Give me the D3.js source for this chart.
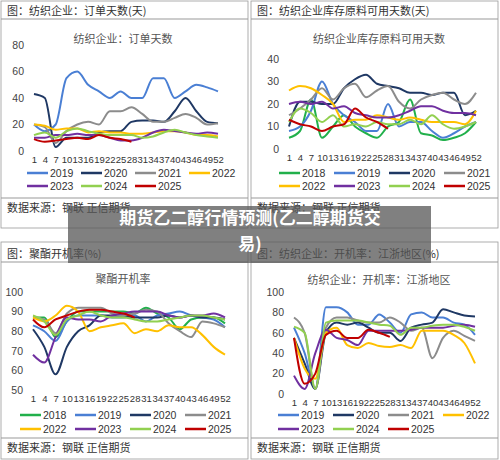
<!DOCTYPE html>
<html><head><meta charset="utf-8">
<script src="https://cdn.jsdelivr.net/npm/d3@7"></script>
<style>body{margin:0;background:#fff}text{font-family:"Noto Sans CJK SC","DejaVu Sans",sans-serif}text.num{font-family:"Liberation Sans Narrow","Liberation Sans",sans-serif}</style>
</head><body>
<svg id="c" width="500" height="460"></svg>
<script>
const weeks = [1,4,7,10,13,16,19,22,25,28,31,34,37,40,43,46,49,52];
const tickWeeks = weeks;
const colors = {"2018":"#21b04b","2019":"#4a7fd4","2020":"#1f3864","2021":"#8c8c8c","2022":"#ffc000","2023":"#7030a0","2024":"#92d050","2025":"#c00000"};

const orders = {
  "2019":[20,15,20,55,60,50,45,40,45,40,40,55,55,40,45,50,48,45],
  "2020":[43,40,3,10,10,10,14,15,15,22,23,23,22,30,40,30,22,21],
  "2021":[20,18,6,15,20,22,20,30,30,33,28,22,22,25,28,25,20,21],
  "2022":[20,19,16,17,17,14,15,14,14,13,13,14,15,15,14,12,12,11],
  "2023":[10,10,12,12,13,12,12,10,8,8,10,14,16,15,14,13,14,13],
  "2024":[12,14,10,15,17,15,13,12,12,12,10,11,14,16,14,12,11,10],
  "2025":[9,7,8,9,10,9,12,10,9,7]
};
const stock = {
  "2018":[5,8,22,5,10,15,10,7,5,10,12,22,7,6,4,5,7,12],
  "2019":[8,10,17,30,20,15,12,8,8,20,10,12,12,8,5,7,10,12],
  "2020":[10,21,21,20,20,27,31,33,29,28,27,25,25,24,25,25,15,17],
  "2021":[15,18,22,27,22,27,29,23,26,28,21,18,22,24,25,22,20,25],
  "2022":[26,28,27,24,20,12,13,13,15,14,13,14,13,12,12,12,11,17],
  "2023":[20,21,20,21,18,19,16,15,14,14,15,17,19,19,17,16,16,15],
  "2024":[12,18,16,12,15,10,11,10,12,11,11,13,11,15,11,9,10,12],
  "2025":[13,11,10,8,10,11,18,14,12,9]
};
const polyester = {
  "2018":[87,87,77,85,90,90,90,90,90,89,92,89,87,81,86,87,87,84],
  "2019":[83,80,75,85,88,88,88,87,87,88,85,88,89,90,88,87,86,82],
  "2020":[81,72,58,72,80,83,88,88,88,87,87,87,88,87,88,87,87,86],
  "2021":[87,86,79,89,92,92,92,89,88,89,91,90,84,80,77,85,84,82],
  "2022":[87,85,88,93,90,80,82,83,84,79,81,80,83,82,82,78,72,68],
  "2023":[68,64,77,87,86,86,85,88,89,90,90,90,88,87,88,88,89,87],
  "2024":[88,85,78,86,88,90,88,87,87,86,85,85,86,87,88,88,87,86],
  "2025":[86,82,86,88,90,91,91,90,89,87]
};
const textile = {
  "2019":[65,40,5,85,85,80,68,68,78,70,60,78,80,75,75,70,68,58],
  "2020":[55,30,5,60,70,68,70,65,60,60,52,65,68,70,83,80,77,76],
  "2021":[75,60,5,65,75,75,72,70,70,75,70,62,65,35,55,62,57,52],
  "2022":[55,25,15,60,65,48,45,50,47,46,48,45,62,62,62,58,50,30],
  "2023":[18,5,40,63,55,53,48,62,62,62,62,63,65,65,65,67,68,66],
  "2024":[66,60,5,70,72,72,72,70,68,67,58,65,65,67,68,68,66,62],
  "2025":[55,10,20,58,62,55,55,63,60,56]
};

const svg = d3.select("#c");

function panel(o) {
  const g = svg.append("g");
  g.append("rect").attr("x", o.x0+1).attr("y", o.top).attr("width", 247).attr("height", o.bottom-o.top)
    .attr("fill", "#fff").attr("stroke", "#999").attr("stroke-width", 0.8);
  g.append("line").attr("x1", o.x0+1).attr("x2", o.x0+248).attr("y1", o.hLine).attr("y2", o.hLine).attr("stroke", "#999");
  g.append("line").attr("x1", o.x0+1).attr("x2", o.x0+248).attr("y1", o.fLine).attr("y2", o.fLine).attr("stroke", "#999");
  g.append("text").attr("x", o.x0+7).attr("y", o.hLine-4).attr("font-size", 11).attr("fill", "#333").text(o.header);
  g.append("text").attr("x", o.x0+7).attr("y", o.fLine+14).attr("font-size", 11).attr("fill", "#333").text("数据来源：钢联     正信期货");
  g.append("text").attr("x", o.titleX).attr("y", o.titleY).attr("text-anchor", "middle")
    .attr("font-size", 11).attr("fill", "#555").text(o.title);

  const x = d3.scaleLinear().domain([1, 52]).range(o.xr);
  const y = d3.scaleLinear().domain(o.dom).range(o.yr);
  g.append("g").attr("transform", `translate(${o.xr[0]-4},0)`)
    .call(d3.axisLeft(y).tickValues(o.ticks).tickSize(0).tickPadding(6))
    .call(a => a.select(".domain").remove())
    .selectAll("text").attr("class", "num").attr("font-size", 10.5).attr("fill", "#444");
  g.append("g").attr("transform", `translate(0,${o.yr[0]+2})`)
    .call(d3.axisBottom(x).tickValues(tickWeeks).tickFormat(d3.format("d")).tickSize(0).tickPadding(3))
    .call(a => a.select(".domain").remove())
    .selectAll("text").attr("class", "num").attr("font-size", 9.5).attr("fill", "#333");

  const line = d3.line().x((d, i) => x(weeks[i])).y(d => y(d)).curve(d3.curveMonotoneX);
  const keys = Object.keys(o.data);
  keys.forEach(k => {
    g.append("path").datum(o.data[k]).attr("d", line).attr("fill", "none")
      .attr("stroke", colors[k]).attr("stroke-width", 2);
  });
  keys.forEach((k, i) => {
    const lx = o.legX + (i % 4) * o.legStep, ly = i < 4 ? o.legY[0] : o.legY[1];
    g.append("line").attr("x1", lx).attr("x2", lx+21).attr("y1", ly).attr("y2", ly)
      .attr("stroke", colors[k]).attr("stroke-width", 2.5);
    g.append("text").attr("class", "num").attr("x", lx+23).attr("y", ly+3.5).attr("font-size", 10.5).attr("fill", "#333").text(k);
  });
}

panel({x0:0, top:1, hLine:19, fLine:198, bottom:228, header:"图：纺织企业：订单天数(天)", title:"纺织企业：订单天数", titleX:123, titleY:43,
  data:orders, dom:[0,80], ticks:[0,20,40,60,80], xr:[34,218], yr:[151,45], legX:27, legStep:54, legY:[173,186]});
panel({x0:250, top:1, hLine:19, fLine:198, bottom:228, header:"图：纺织企业库存原料可用天数(天)", title:"纺织企业库存原料可用天数", titleX:379, titleY:43,
  data:stock, dom:[0,40], ticks:[0,10,20,30,40], xr:[289,476], yr:[149,59], legX:279, legStep:55, legY:[173,186]});
panel({x0:0, top:242, hLine:262, fLine:438, bottom:459, header:"图：聚酯开机率(%)", title:"聚酯开机率", titleX:123, titleY:283,
  data:polyester, dom:[50,100], ticks:[50,60,70,80,90,100], xr:[33,225], yr:[390,292], legX:20, legStep:55, legY:[415,429]});
panel({x0:250, top:242, hLine:262, fLine:438, bottom:459, header:"图：纺织企业：开机率：江浙地区(%)", title:"纺织企业：开机率：江浙地区", titleX:379, titleY:284,
  data:textile, dom:[0,100], ticks:[0,20,40,60,80,100], xr:[294,475], yr:[394,292], legX:278, legStep:55, legY:[415,429]});

// overlay caption band
svg.append("rect").attr("x", 68).attr("y", 206).attr("width", 363).attr("height", 57)
  .attr("fill", "#555").attr("opacity", 0.75);
svg.append("text").attr("x", 250).attr("y", 224).attr("text-anchor", "middle").attr("font-size", 17)
  .attr("font-weight", "bold").attr("fill", "#fff").text("期货乙二醇行情预测(乙二醇期货交");
svg.append("text").attr("x", 250).attr("y", 250).attr("text-anchor", "middle").attr("font-size", 17)
  .attr("font-weight", "bold").attr("fill", "#fff").text("易)");
</script>
</body></html>
